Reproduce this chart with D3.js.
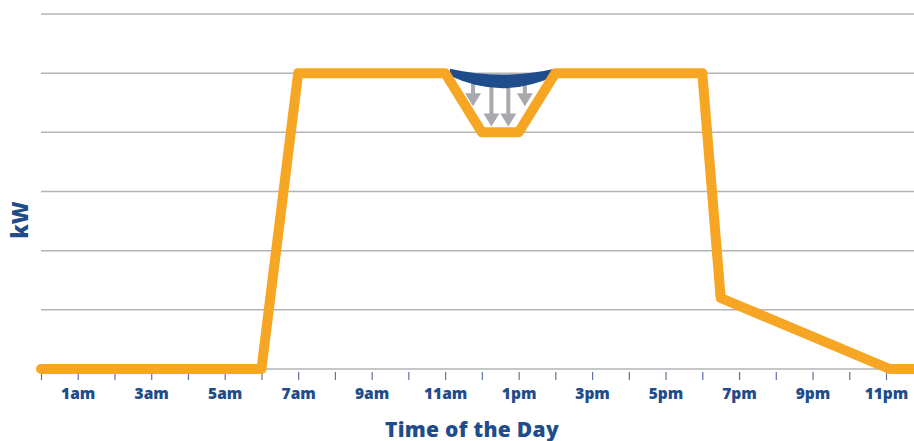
<!DOCTYPE html>
<html>
<head>
<meta charset="utf-8">
<script src="https://cdn.jsdelivr.net/npm/d3@7"></script>
<style>
  html, body { margin: 0; padding: 0; background: #fff; }
  svg { display: block; font-family: "Open Sans", sans-serif; }
</style>
</head>
<body>
<svg id="chart" width="914" height="441"></svg>
<script>
// Daily load profile (kW) by hour of day
const hours = [0, 6, 7, 11, 12, 13, 14, 18, 18.5, 23.1, 24];
const loadKW = [0, 0, 5, 5, 4, 4, 5, 5, 1.2, 0, 0];

// Gridline levels (kW)
const gridLevels = [0, 1, 2, 3, 4, 5, 6];

// Hour ticks and their labels (labels on odd hours only)
const tickHours = d3.range(0, 24);
const tickLabels = ["", "1am", "", "3am", "", "5am", "", "7am", "", "9am", "", "11am",
                    "", "1pm", "", "3pm", "", "5pm", "", "7pm", "", "9pm", "", "11pm"];

// Original midday peak (blue band) that gets shaved down
const peakStartHour = 11.13, peakEndHour = 13.99;
const peakTopKW = 5.076, peakTopSagKW = 0.10;      // upper edge
const peakBottomKW = 4.955, peakBottomSagKW = 0.21; // lower edge

// Downward shift arrows: hour, start kW, end kW
const arrowHours = [11.76, 12.26, 12.72, 13.17];
const arrowFromKW = [4.86, 4.8, 4.8, 4.86];
const arrowToKW = [4.44, 4.1, 4.1, 4.44];

const svg = d3.select("#chart");
const W = 914;

const x = d3.scaleLinear().domain([0, 23]).range([41, 886]);
const y = d3.scaleLinear().domain([0, 6]).range([369, 14]);

const orange = "#f6a623";
const navy = "#1f4d8b";
const gridGray = "#b3b3b3";
const arrowGray = "#a7a9ac";

// Horizontal gridlines
svg.append("g")
  .selectAll("line")
  .data(gridLevels)
  .join("line")
  .attr("x1", x(0))
  .attr("x2", W)
  .attr("y1", d => y(d))
  .attr("y2", d => y(d))
  .attr("stroke", gridGray)
  .attr("stroke-width", 1.5);

// X axis ticks and labels
const xAxis = d3.axisBottom(x)
  .tickValues(tickHours)
  .tickSize(11)
  .tickFormat((d, i) => tickLabels[i]);

const gx = svg.append("g")
  .attr("transform", `translate(0,${y(0)})`)
  .call(xAxis);
gx.select(".domain").remove();
gx.selectAll(".tick line")
  .attr("y1", 3)
  .attr("stroke", "#5b739c")
  .attr("stroke-width", 1.2);
gx.selectAll(".tick text")
  .attr("y", 30)
  .attr("dy", 0)
  .attr("fill", navy)
  .attr("font-family", "'Open Sans', sans-serif")
  .attr("font-weight", 800)
  .attr("font-size", 15.5);

// Axis titles
svg.append("text")
  .attr("x", 472)
  .attr("y", 436.5)
  .attr("text-anchor", "middle")
  .attr("fill", navy)
  .attr("font-weight", 800)
  .attr("font-size", 21)
  .attr("letter-spacing", 0.3)
  .text("Time of the Day");

svg.append("text")
  .attr("transform", "translate(28,220) rotate(-90)")
  .attr("text-anchor", "middle")
  .attr("fill", navy)
  .attr("font-weight", 800)
  .attr("font-size", 22)
  .text("kW");

// Gray arrows showing the load shift downward
const arrows = svg.append("g").attr("fill", arrowGray);
arrowHours.forEach((h, i) => {
  const ax = x(h), y0 = y(arrowFromKW[i]), y1 = y(arrowToKW[i]);
  const headH = 13, headW = 8, shaftW = 2;
  arrows.append("path")
    .attr("d", [
      `M${ax - shaftW},${y0}`,
      `L${ax + shaftW},${y0}`,
      `L${ax + shaftW},${y1 - headH}`,
      `L${ax + headW},${y1 - headH}`,
      `L${ax},${y1}`,
      `L${ax - headW},${y1 - headH}`,
      `L${ax - shaftW},${y1 - headH}`,
      "Z"
    ].join(""));
});

// Blue band: original peak before shaving
const px0 = x(peakStartHour), px1 = x(peakEndHour);
const pxm = (px0 + px1) / 2;
const band = d3.path();
band.moveTo(px0, y(peakTopKW));
band.quadraticCurveTo(pxm, y(peakTopKW - 2 * peakTopSagKW), px1, y(peakTopKW));
band.lineTo(px1, y(peakBottomKW));
band.quadraticCurveTo(pxm, y(peakBottomKW - 2 * peakBottomSagKW), px0, y(peakBottomKW));
band.closePath();
svg.append("path")
  .attr("d", band.toString())
  .attr("fill", navy);

// Load profile line
const line = d3.line()
  .x((d, i) => x(hours[i]))
  .y(d => y(d));

svg.append("path")
  .datum(loadKW)
  .attr("d", line)
  .attr("fill", "none")
  .attr("stroke", orange)
  .attr("stroke-width", 10)
  .attr("stroke-linejoin", "round")
  .attr("stroke-linecap", "round");
</script>
</body>
</html>
